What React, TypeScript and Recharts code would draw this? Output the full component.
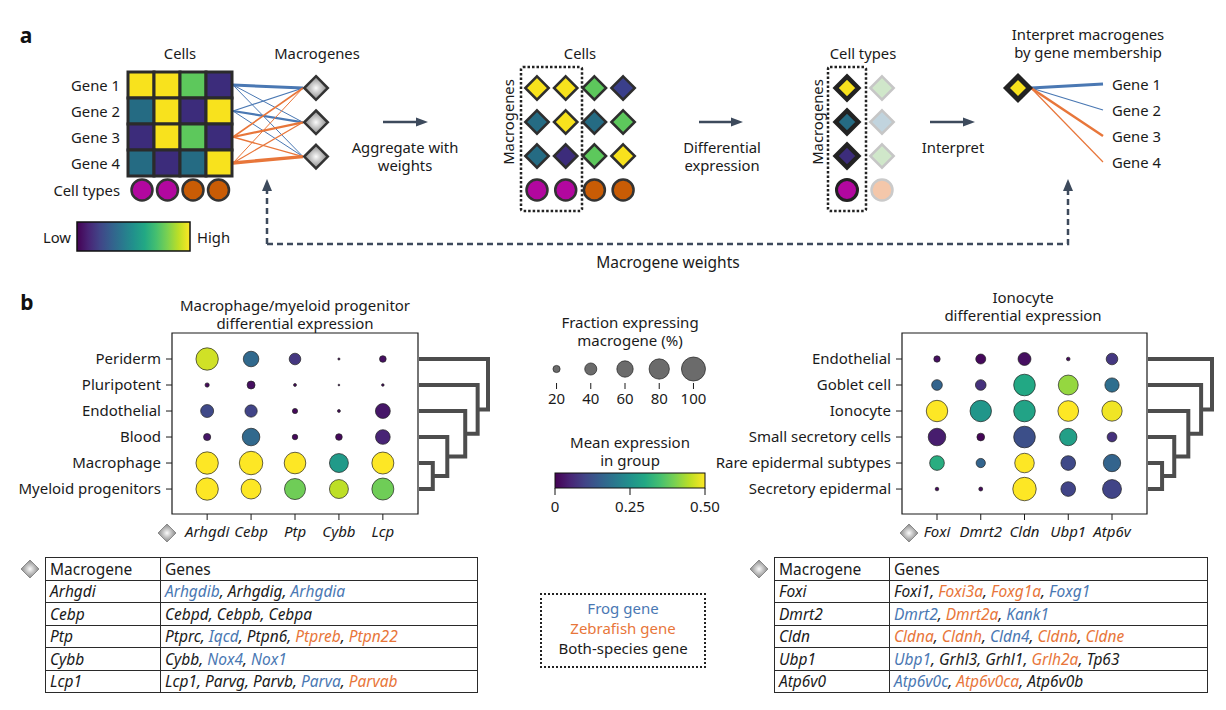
import React from 'react';
import { ScatterChart, Scatter, XAxis, YAxis, ZAxis, ReferenceArea } from 'recharts';

const FONT = '"Noto Sans", sans-serif';
const INK = '#1a1a1a';
const ARROW = '#3d4a5c';
const FROG = '#4a78b3';
const FISH = '#e8763a';

// ---------- panel a: schematic ----------
const PAL: Record<string, string> = {
  Y: '#f8e21d', G: '#5dc85c', P: '#3c2c7b', B: '#3a3f8b', T: '#256b83',
  M: '#b2079f', O: '#c95c05', LG: '#d0e7ca', LB: '#c1d4de', LO: '#f4c7aa',
};
const geneLabels = ['Gene 1', 'Gene 2', 'Gene 3', 'Gene 4'];
const heatmap = [
  ['Y', 'Y', 'G', 'P'],
  ['T', 'Y', 'P', 'Y'],
  ['P', 'Y', 'G', 'P'],
  ['T', 'P', 'T', 'Y'],
];
const cellTypes = ['M', 'M', 'O', 'O'];
const aggregated = [
  ['Y', 'Y', 'G', 'B'],
  ['T', 'Y', 'T', 'G'],
  ['T', 'P', 'G', 'Y'],
];
const typeMacro = ['Y', 'T', 'P'];
const otherMacro = ['LG', 'LB', 'LG'];
const geneColor = [FROG, FROG, FISH, FISH];
// line width of gene -> macrogene weights
const weights = [
  [3, 1, 1],
  [1.2, 2.2, 1],
  [1.6, 2.2, 1.4],
  [1, 1.2, 3.4],
];
const memberWeights = [3, 1.3, 2.5, 1.2];

// ---------- panel b: dot plots ----------
const leftRows = ['Periderm', 'Pluripotent', 'Endothelial', 'Blood', 'Macrophage', 'Myeloid progenitors'];
const leftCols = ['Arhgdi', 'Cebp', 'Ptp', 'Cybb', 'Lcp'];
const leftFrac = [
  [91, 56, 38, 4, 18],
  [10, 23, 6, 3, 5],
  [44, 41, 13, 6, 53],
  [20, 66, 14, 18, 52],
  [91, 97, 87, 73, 89],
  [91, 78, 84, 73, 89],
];
const leftExpr = [
  [0.465, 0.17, 0.08, 0.01, 0.02],
  [0.01, 0.02, 0.01, 0.01, 0.01],
  [0.11, 0.1, 0.01, 0.01, 0.03],
  [0.03, 0.17, 0.01, 0.01, 0.05],
  [0.5, 0.5, 0.5, 0.27, 0.5],
  [0.5, 0.5, 0.39, 0.45, 0.39],
];

const rightRows = ['Endothelial', 'Goblet cell', 'Ionocyte', 'Small secretory cells', 'Rare epidermal subtypes', 'Secretory epidermal'];
const rightCols = ['Foxi', 'Dmrt2', 'Cldn', 'Ubp1', 'Atp6v'];
const rightFrac = [
  [17, 31, 44, 8, 38],
  [34, 34, 87, 78, 50],
  [86, 86, 87, 82, 80],
  [66, 22, 87, 65, 30],
  [52, 28, 76, 52, 65],
  [8, 9, 97, 52, 73],
];
const rightExpr = [
  [0.02, 0.01, 0.02, 0.01, 0.08],
  [0.16, 0.07, 0.3, 0.42, 0.18],
  [0.5, 0.26, 0.29, 0.5, 0.49],
  [0.04, 0.005, 0.12, 0.28, 0.07],
  [0.31, 0.16, 0.5, 0.11, 0.16],
  [0.01, 0.01, 0.5, 0.1, 0.1],
];
// dendrogram merge heights (relative), bottom merge first
const leftLinkage = [0.2, 0.41, 0.67, 0.85, 1];
const rightLinkage = [0.22, 0.41, 0.63, 0.83, 1];

const sizeValues = [20, 40, 60, 80, 100];
const colorTicks = [0, 0.25, 0.5];
const colorTickLabels = ['0', '0.25', '0.50'];

const leftTableNames = ['Arhgdi', 'Cebp', 'Ptp', 'Cybb', 'Lcp1'];
const leftTableGenes = [
  [['Arhgdib', 'f'], ['Arhgdig', 'b'], ['Arhgdia', 'f']],
  [['Cebpd', 'b'], ['Cebpb', 'b'], ['Cebpa', 'b']],
  [['Ptprc', 'b'], ['Iqcd', 'f'], ['Ptpn6', 'b'], ['Ptpreb', 'z'], ['Ptpn22', 'z']],
  [['Cybb', 'b'], ['Nox4', 'f'], ['Nox1', 'f']],
  [['Lcp1', 'b'], ['Parvg', 'b'], ['Parvb', 'b'], ['Parva', 'f'], ['Parvab', 'z']],
];
const rightTableNames = ['Foxi', 'Dmrt2', 'Cldn', 'Ubp1', 'Atp6v0'];
const rightTableGenes = [
  [['Foxi1', 'b'], ['Foxi3a', 'z'], ['Foxg1a', 'z'], ['Foxg1', 'f']],
  [['Dmrt2', 'f'], ['Dmrt2a', 'z'], ['Kank1', 'f']],
  [['Cldna', 'z'], ['Cldnh', 'z'], ['Cldn4', 'f'], ['Cldnb', 'z'], ['Cldne', 'z']],
  [['Ubp1', 'f'], ['Grhl3', 'b'], ['Grhl1', 'b'], ['Grlh2a', 'z'], ['Tp63', 'b']],
  [['Atp6v0c', 'f'], ['Atp6v0ca', 'z'], ['Atp6v0b', 'b']],
];
const speciesColor: Record<string, string> = { f: FROG, z: FISH, b: INK };

const VIRIDIS = ['#440154', '#482475', '#414487', '#355f8d', '#2a788e', '#21918c', '#22a884', '#44bf70', '#7ad151', '#bddf26', '#fde725'];
function viridis(t: number) {
  const c = Math.max(0, Math.min(1, t)) * 10;
  const i = Math.min(9, Math.floor(c));
  const f = c - i;
  const a = VIRIDIS[i], b = VIRIDIS[i + 1];
  const ch = (s: string, k: number) => parseInt(s.slice(1 + 2 * k, 3 + 2 * k), 16);
  const out = [0, 1, 2].map((k) => Math.round(ch(a, k) + (ch(b, k) - ch(a, k)) * f));
  return `rgb(${out.join(',')})`;
}

const buildDots = (rows: string[], cols: string[], frac: number[][], expr: number[][]) =>
  rows.flatMap((_, i) =>
    cols.map((_, j) => ({ x: j, y: i, frac: frac[i][j], expr: expr[i][j], z: Math.pow(frac[i][j] / 100, 1.5) }))
  );
const leftData = buildDots(leftRows, leftCols, leftFrac, leftExpr);
const rightData = buildDots(rightRows, rightCols, rightFrac, rightExpr);
const sizeData = sizeValues.map((v, i) => ({ x: i, y: 0.5, z: Math.pow(v / 100, 1.5) }));

const diamondPath = (cx: number, cy: number, h: number) =>
  `M${cx} ${cy - h} L${cx + h} ${cy} L${cx} ${cy + h} L${cx - h} ${cy} Z`;

function Glyph(props: any) {
  const { cx, cy, payload } = props;
  if (cx == null || cy == null) return null;
  const c = payload.color;
  switch (payload.kind) {
    case 'sq':
      return <rect x={cx - 13} y={cy - 13} width={26} height={26} fill={c} stroke="#2b2b2b" strokeWidth={3} />;
    case 'ci':
      return <circle cx={cx} cy={cy} r={10.5} fill={c} stroke="#333" strokeWidth={2.5} />;
    case 'cib':
      return <circle cx={cx} cy={cy} r={10.5} fill={c} stroke="#222" strokeWidth={3} />;
    case 'cif':
      return <circle cx={cx} cy={cy} r={10.5} fill={c} stroke="#cacaca" strokeWidth={2.5} />;
    case 'dmb':
      return <path d={diamondPath(cx, cy, 11.3)} fill={c} stroke="#222" strokeWidth={4.5} />;
    case 'dmf':
      return <path d={diamondPath(cx, cy, 11.7)} fill={c} stroke="#c6c6c6" strokeWidth={2.5} />;
    case 'dmg':
      return <path d={diamondPath(cx, cy, 11.8)} fill="url(#grayGrad)" stroke="#333" strokeWidth={2.5} />;
    case 'dmx':
      return <path d={diamondPath(cx, cy, 11.5)} fill={c} stroke="#222" strokeWidth={5} />;
    default:
      return <path d={diamondPath(cx, cy, 11.7)} fill={c} stroke="#2e2e2e" strokeWidth={2.5} />;
  }
}

function Dot(props: any) {
  const { cx, cy, payload } = props;
  if (cx == null || cy == null) return null;
  const r = props.width != null ? props.width / 2 : Math.sqrt((props.size ?? 0) / Math.PI);
  const fill = payload.expr != null ? viridis(payload.expr / 0.5) : '#6b6b6b';
  return <circle cx={cx} cy={cy} r={r} fill={fill} stroke="#222" strokeWidth={0.7} />;
}

type Cell = { x: number; y: number; kind: string; color: string };
function Matrix({ x0, y0, dx, dy, nx, ny, cells }: { x0: number; y0: number; dx: number; dy: number; nx: number; ny: number; cells: Cell[] }) {
  const pad = 18;
  const w = (nx - 1) * dx + 2 * pad;
  const h = (ny - 1) * dy + 2 * pad;
  return (
    <div style={{ position: 'absolute', left: x0 - pad, top: y0 - pad }}>
      <ScatterChart width={w} height={h} margin={{ top: 0, right: 0, bottom: 0, left: 0 }}>
        <XAxis type="number" dataKey="x" domain={[-pad / dx, nx - 1 + pad / dx]} hide />
        <YAxis type="number" dataKey="y" domain={[-pad / dy, ny - 1 + pad / dy]} reversed hide />
        <Scatter data={cells} shape={Glyph} isAnimationActive={false} />
      </ScatterChart>
    </div>
  );
}

const tickStyle = { fontSize: 15, fill: INK, fontFamily: FONT };

function DotPlot({ left, rows, cols, data, yWidth, width }: any) {
  return (
    <div style={{ position: 'absolute', left, top: 320 }}>
      <ScatterChart width={width} height={230} margin={{ top: 13, right: 12, bottom: 0, left: 0 }}>
        <XAxis
          type="number" dataKey="x" domain={[-0.8, 4.8]} ticks={[0, 1, 2, 3, 4]} interval={0}
          tickFormatter={(v: number) => cols[Math.round(v)]} axisLine={false} tickSize={6} tickMargin={6}
          height={36} tick={{ ...tickStyle, fontStyle: 'italic' }} tickLine={{ stroke: INK }}
        />
        <YAxis
          type="number" dataKey="y" domain={[-1, 5.96]} reversed ticks={[0, 1, 2, 3, 4, 5]} interval={0}
          tickFormatter={(v: number) => rows[Math.round(v)]} width={yWidth} axisLine={false} tickSize={6}
          tickMargin={5} tick={tickStyle} tickLine={{ stroke: INK }}
        />
        <ZAxis type="number" dataKey="z" domain={[0, 1]} range={[0, 144 * Math.PI]} />
        <ReferenceArea x1={-0.8} x2={4.8} y1={-1} y2={5.96} fill="none" stroke={INK} strokeWidth={1.2} />
        <Scatter data={data} shape={Dot} isAnimationActive={false} />
      </ScatterChart>
    </div>
  );
}

function Dendrogram({ x0, linkage, scale }: { x0: number; linkage: number[]; scale: number }) {
  const ys = [0, 1, 2, 3, 4, 5].map((i) => 359 + i * 26);
  const paths: string[] = [];
  const hx = (k: number) => x0 + linkage[k] * scale;
  // first merge: the two bottom leaves
  paths.push(`M${x0} ${ys[4]} H${hx(0)} V${ys[5]} H${x0}`);
  let curY = (ys[4] + ys[5]) / 2;
  let curX = hx(0);
  for (let k = 1; k < linkage.length; k++) {
    const leaf = ys[4 - k];
    paths.push(`M${x0} ${leaf} H${hx(k)} V${curY} H${curX}`);
    curY = (leaf + curY) / 2;
    curX = hx(k);
  }
  return (
    <g fill="none" stroke="#4d4d4d" strokeWidth={4}>
      {paths.map((d, i) => <path key={i} d={d} />)}
    </g>
  );
}

function Arrow({ x1, x2, y }: { x1: number; x2: number; y: number }) {
  return (
    <g>
      <line x1={x1} y1={y} x2={x2 - 9} y2={y} stroke={ARROW} strokeWidth={2.5} />
      <polygon points={`${x2},${y} ${x2 - 12},${y - 4.5} ${x2 - 12},${y + 4.5}`} fill={ARROW} />
    </g>
  );
}

function GeneTable({ left, width, names, genes }: any) {
  const td: React.CSSProperties = { border: '1.8px solid #2a2a2a', padding: '0 0 0 4px', height: 21.5, lineHeight: '20px' };
  return (
    <table style={{ position: 'absolute', left, top: 557, width, borderCollapse: 'collapse', fontSize: 15.5, color: INK, fontFamily: FONT }}>
      <tbody>
        <tr>
          <td style={{ ...td, width: 110 }}>Macrogene</td>
          <td style={td}>Genes</td>
        </tr>
        {names.map((n: string, i: number) => (
          <tr key={n}>
            <td style={{ ...td, fontStyle: 'italic' }}>{n}</td>
            <td style={{ ...td, fontStyle: 'italic' }}>
              {genes[i].map((g: string[], j: number) => (
                <React.Fragment key={g[0]}>
                  <span style={{ color: speciesColor[g[1]] }}>{g[0]}</span>
                  {j < genes[i].length - 1 ? ', ' : ''}
                </React.Fragment>
              ))}
            </td>
          </tr>
        ))}
      </tbody>
    </table>
  );
}

const T = (p: any) => <text fontSize={14.8} fill={INK} dominantBaseline="central" textAnchor="middle" {...p} />;
const B = (p: any) => <T fontSize={15} {...p} />;

export default function App() {
  const heatCells: Cell[] = heatmap.flatMap((row, i) => row.map((k, j) => ({ x: j, y: i, kind: 'sq', color: PAL[k] })));
  const typeCells: Cell[] = cellTypes.map((k, j) => ({ x: j, y: 0, kind: 'ci', color: PAL[k] }));
  const macroCells: Cell[] = [0, 1, 2].map((i) => ({ x: 0, y: i, kind: 'dmg', color: '#999' }));
  const aggCells: Cell[] = [
    ...aggregated.flatMap((row, i) => row.map((k, j) => ({ x: j, y: i, kind: 'dm', color: PAL[k] }))),
    ...cellTypes.map((k, j) => ({ x: j, y: 3, kind: 'ci', color: PAL[k] })),
  ];
  const deCells: Cell[] = [
    ...typeMacro.map((k, i) => ({ x: 0, y: i, kind: 'dmb', color: PAL[k] })),
    ...otherMacro.map((k, i) => ({ x: 1, y: i, kind: 'dmf', color: PAL[k] })),
    { x: 0, y: 3, kind: 'cib', color: PAL.M },
    { x: 1, y: 3, kind: 'cif', color: PAL.LO },
  ];
  const finalCell: Cell[] = [{ x: 0, y: 0, kind: 'dmx', color: PAL.Y }];

  const geneY = [85, 111, 137, 163];
  const macroY = [88, 122.3, 156.6];
  const memberY = [84, 110, 136, 162];

  return (
    <div style={{ position: 'absolute', left: 0, top: 0, width: 1226, height: 710, background: '#fff', fontFamily: FONT, overflow: 'hidden' }}>
      <svg width={1226} height={710} style={{ position: 'absolute', left: 0, top: 0 }} fontFamily={FONT}>
        <defs>
          <radialGradient id="grayGrad" cx="50%" cy="50%" r="55%">
            <stop offset="0%" stopColor="#fbfbfb" />
            <stop offset="100%" stopColor="#7a7a7a" />
          </radialGradient>
          <linearGradient id="viridisH" x1="0" x2="1" y1="0" y2="0">
            {VIRIDIS.map((c, i) => <stop key={i} offset={`${i * 10}%`} stopColor={c} />)}
          </linearGradient>
        </defs>

        {/* panel a */}
        <text x={26} y={35} fontSize={21} fontWeight="bold" dominantBaseline="central" textAnchor="middle" fill="#111">a</text>
        <T x={180} y={53}>Cells</T>
        <T x={317} y={53}>Macrogenes</T>
        {geneLabels.map((g, i) => <T key={g} x={120} y={geneY[i]} textAnchor="end">{g}</T>)}
        <T x={120} y={190} textAnchor="end">Cell types</T>
        {weights.map((row, g) => row.map((w, m) => (
          <line key={`${g}-${m}`} x1={233} y1={geneY[g]} x2={303} y2={macroY[m]} stroke={geneColor[g]} strokeWidth={w} />
        )))}
        <rect x={77} y={222} width={113} height={29} fill="url(#viridisH)" stroke="#111" strokeWidth={1.5} />
        <T x={71} y={237} textAnchor="end">Low</T>
        <T x={197} y={237} textAnchor="start">High</T>

        <Arrow x1={383} x2={428} y={122} />
        <T x={405} y={147}>Aggregate with</T>
        <T x={405} y={165}>weights</T>

        <T x={580} y={53}>Cells</T>
        <T x={508} y={122} transform="rotate(-90 508 122)">Macrogenes</T>
        <rect x={521} y={67} width={61} height={144} rx={2} fill="none" stroke="#222" strokeWidth={2.5} strokeDasharray="2.5 2" />

        <Arrow x1={699} x2={743} y={122} />
        <T x={722} y={147}>Differential</T>
        <T x={722} y={165}>expression</T>

        <T x={863} y={53}>Cell types</T>
        <T x={817} y={122} transform="rotate(-90 817 122)">Macrogenes</T>
        <rect x={828} y={67} width={38} height={144} rx={2} fill="none" stroke="#222" strokeWidth={2.5} strokeDasharray="2.5 2" />

        <Arrow x1={930} x2={975} y={122} />
        <T x={953} y={147}>Interpret</T>

        <T x={1088} y={34}>Interpret macrogenes</T>
        <T x={1088} y={52}>by gene membership</T>
        {memberWeights.map((w, i) => (
          <line key={i} x1={1031} y1={88} x2={1103} y2={memberY[i]} stroke={geneColor[i]} strokeWidth={w} />
        ))}
        {geneLabels.map((g, i) => <T key={g} x={1112} y={memberY[i]} textAnchor="start">{g}</T>)}

        <path d="M267 244 V190 M267 244 H1068 V190" fill="none" stroke={ARROW} strokeWidth={2.5} strokeDasharray="6 4" />
        <polygon points="267,179 262,191 272,191" fill={ARROW} />
        <polygon points="1068,179 1063,191 1073,191" fill={ARROW} />
        <T x={668} y={262} fontSize={15.5}>Macrogene weights</T>

        {/* panel b */}
        <text x={27} y={302} fontSize={21} fontWeight="bold" dominantBaseline="central" textAnchor="middle" fill="#111">b</text>
        <B x={295} y={305}>Macrophage/myeloid progenitor</B>
        <B x={295} y={323}>differential expression</B>
        <B x={1023} y={297}>Ionocyte</B>
        <B x={1023} y={315}>differential expression</B>
        <Dendrogram x0={419} linkage={leftLinkage} scale={69} />
        <Dendrogram x0={1148} linkage={rightLinkage} scale={64} />

        <B x={630} y={322}>Fraction expressing</B>
        <B x={630} y={340}>macrogene (%)</B>
        <B x={630} y={442}>Mean expression</B>
        <B x={630} y={460}>in group</B>
        <rect x={555} y={473} width={150} height={15} fill="url(#viridisH)" stroke="#111" strokeWidth={1} />
        {colorTicks.map((v, i) => {
          const x = 555 + (v / 0.5) * 150;
          return (
            <g key={v}>
              <line x1={x} y1={488} x2={x} y2={495} stroke="#111" strokeWidth={1} />
              <B x={x} y={506}>{colorTickLabels[i]}</B>
            </g>
          );
        })}

        {[[167, 533], [909, 533], [30, 569], [759, 569]].map(([x, y], i) => (
          <path key={i} d={diamondPath(x, y, 9)} fill="url(#grayGrad)" stroke="#8a8a8a" strokeWidth={1} />
        ))}
      </svg>

      <Matrix x0={141} y0={85} dx={26} dy={26} nx={4} ny={4} cells={heatCells} />
      <Matrix x0={142} y0={190} dx={25.5} dy={26} nx={4} ny={1} cells={typeCells} />
      <Matrix x0={316} y0={88} dx={30} dy={34.3} nx={1} ny={3} cells={macroCells} />
      <Matrix x0={537} y0={88} dx={28.7} dy={34} nx={4} ny={4} cells={aggCells} />
      <Matrix x0={847} y0={88} dx={35} dy={34} nx={2} ny={4} cells={deCells} />
      <Matrix x0={1018} y0={88} dx={30} dy={30} nx={1} ny={1} cells={finalCell} />

      <DotPlot left={0} rows={leftRows} cols={leftCols} data={leftData} yWidth={172} width={430} />
      <DotPlot left={700} rows={rightRows} cols={rightCols} data={rightData} yWidth={202} width={459} />

      <div style={{ position: 'absolute', left: 536, top: 355 }}>
        <ScatterChart width={178} height={58} margin={{ top: 0, right: 0, bottom: 0, left: 0 }}>
          <XAxis
            type="number" dataKey="x" domain={[-0.6, 4.6]} ticks={[0, 1, 2, 3, 4]} interval={0}
            tickFormatter={(v: number) => String(sizeValues[Math.round(v)])} axisLine={false}
            tickSize={6} tickMargin={4} height={30} tick={tickStyle} tickLine={{ stroke: INK }}
          />
          <YAxis type="number" dataKey="y" domain={[0, 1]} hide />
          <ZAxis type="number" dataKey="z" domain={[0, 1]} range={[0, 144 * Math.PI]} />
          <Scatter data={sizeData} shape={Dot} isAnimationActive={false} />
        </ScatterChart>
      </div>

      <div style={{ position: 'absolute', left: 540, top: 593, width: 162, height: 68, border: '2.5px dotted #222', fontSize: 15, textAlign: 'center', lineHeight: '20px', paddingTop: 3, boxSizing: 'content-box' }}>
        <div style={{ color: FROG }}>Frog gene</div>
        <div style={{ color: FISH }}>Zebrafish gene</div>
        <div style={{ color: INK }}>Both-species gene</div>
      </div>

      <GeneTable left={45} width={433} names={leftTableNames} genes={leftTableGenes} />
      <GeneTable left={774} width={434} names={rightTableNames} genes={rightTableGenes} />
    </div>
  );
}
